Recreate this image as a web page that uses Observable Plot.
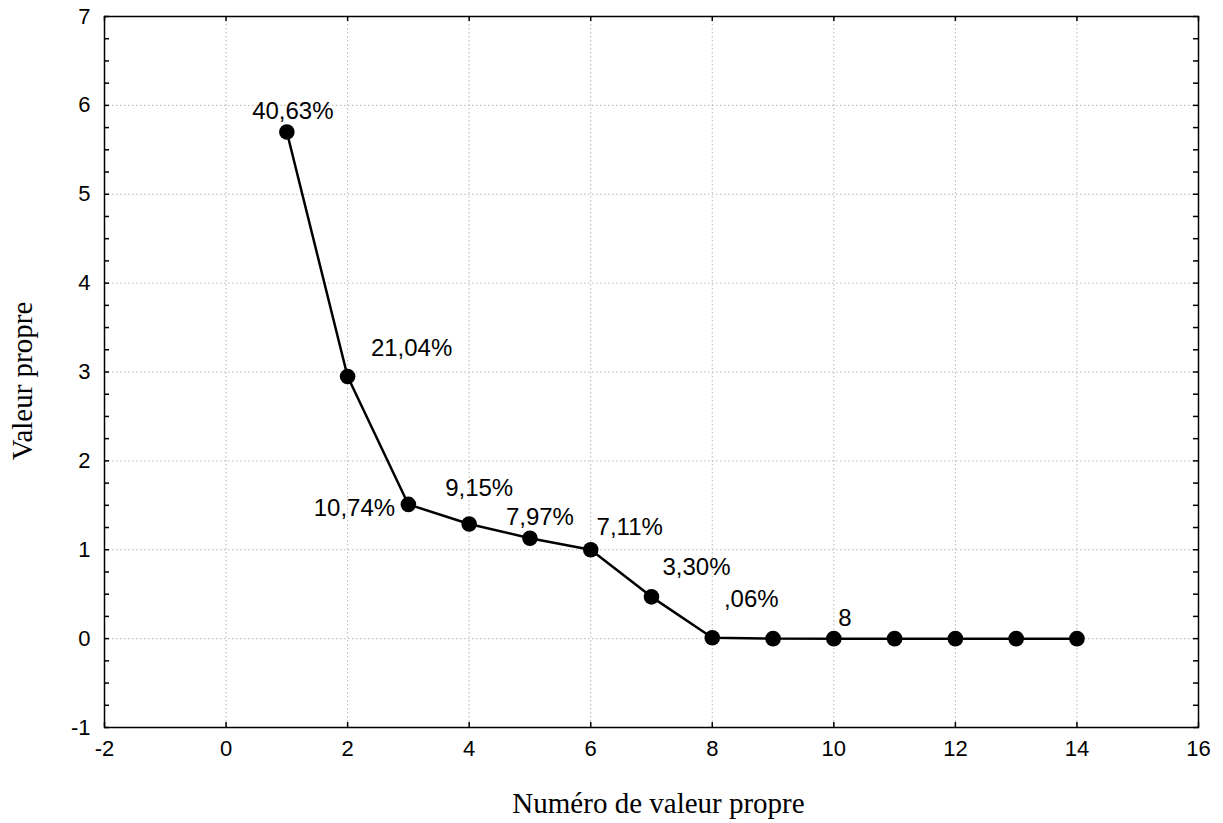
<!DOCTYPE html>
<html>
<head>
<meta charset="utf-8">
<script src="https://cdn.jsdelivr.net/npm/d3@7"></script>
<script src="https://cdn.jsdelivr.net/npm/@observablehq/plot@0.6"></script>
<style>
  html, body { margin: 0; padding: 0; background: #fff; }
  #chart svg { display: block; }
</style>
</head>
<body>
<div id="chart"></div>
<script>
// ---- data ----
const eigenNumber = [1, 2, 3, 4, 5, 6, 7, 8, 9, 10, 11, 12, 13, 14];
const eigenValue  = [5.70, 2.95, 1.51, 1.29, 1.13, 1.00, 0.47, 0.01, 0.0, 0.0, 0.0, 0.0, 0.0, 0.0];
const labelText   = ["40,63%", "21,04%", "10,74%", "9,15%", "7,97%", "7,11%", "3,30%", ",06%", "8"];
const labelNumber = [1, 2, 3, 4, 5, 6, 7, 8, 10];
const xTickValues = [-2, 0, 2, 4, 6, 8, 10, 12, 14, 16];
const yTickValues = [-1, 0, 1, 2, 3, 4, 5, 6, 7];
const yMinorTicks = d3.range(-1, 7.001, 0.25);
const xTitle = "Numéro de valeur propre";
const yTitle = "Valeur propre";

// ---- build ----
const points = eigenNumber.map((n, i) => ({n, v: eigenValue[i]}));
const labels = labelText.map((t, i) => ({t, n: labelNumber[i], v: eigenValue[eigenNumber.indexOf(labelNumber[i])]}));

const W = 1223, H = 823;
const mL = 104, mR = 25, mT = 16, mB = 96;
const plotW = W - mL - mR, plotH = H - mT - mB;

// label offsets (presentation only)
const labelOffsets = [[6, -21], [64, -28], [-54, 4], [10, -36], [10, -21], [39, -22], [45, -30], [39, -38], [11, -20]];

const sans = "'Liberation Sans', Arial, sans-serif";
const serif = "'Liberation Serif', 'Times New Roman', serif";

const labelMarks = labels.map((d, i) => Plot.text([d], {
  x: "n", y: "v", text: "t",
  dx: labelOffsets[i][0], dy: labelOffsets[i][1],
  fontSize: 24, fontFamily: sans, fill: "black"
}));

const fmt = d => String(d).replace("−", "-");

const chart = Plot.plot({
  width: W, height: H,
  marginLeft: mL, marginRight: mR, marginTop: mT, marginBottom: mB,
  style: {background: "white", fontFamily: sans, fontSize: "22px"},
  x: {domain: [-2, 16], ticks: xTickValues},
  y: {domain: [-1, 7], ticks: yTickValues},
  marks: [
    Plot.gridX(xTickValues, {stroke: "#b8b8b8", strokeOpacity: 1, strokeDasharray: "1.5,2.5", strokeWidth: 1}),
    Plot.gridY(yTickValues, {stroke: "#b8b8b8", strokeOpacity: 1, strokeDasharray: "1.5,2.5", strokeWidth: 1}),
    // inward ticks
    Plot.tickX(xTickValues, {x: d => d, insetTop: plotH - 5, stroke: "black", strokeWidth: 1.5}),
    Plot.tickX(xTickValues, {x: d => d, insetBottom: plotH - 5, stroke: "black", strokeWidth: 1.5}),
    Plot.tickY(yMinorTicks, {y: d => d, insetRight: plotW - 5, stroke: "black", strokeWidth: 1.5}),
    Plot.tickY(yMinorTicks, {y: d => d, insetLeft: plotW - 5, stroke: "black", strokeWidth: 1.5}),
    Plot.axisX(xTickValues, {tickSize: 0, tickPadding: 13, fontSize: 22, fontFamily: sans, label: null, tickFormat: fmt}),
    Plot.axisY(yTickValues, {tickSize: 0, tickPadding: 14, fontSize: 22, fontFamily: sans, label: null, tickFormat: fmt}),
    Plot.frame({stroke: "black", strokeWidth: 1.5}),
    Plot.line(points, {x: "n", y: "v", stroke: "black", strokeWidth: 2.5}),
    Plot.dot(points, {x: "n", y: "v", r: 7.8, fill: "black", stroke: "none"}),
    ...labelMarks,
    Plot.text([xTitle], {frameAnchor: "bottom", textAnchor: "middle", dx: 7, dy: 85, fontSize: 29, fontFamily: serif, fill: "black"}),
    Plot.text([yTitle], {frameAnchor: "left", textAnchor: "middle", dx: -82, dy: 9, rotate: -90, fontSize: 29, fontFamily: serif, fill: "black"})
  ]
});
document.getElementById("chart").appendChild(chart);
</script>
</body>
</html>
